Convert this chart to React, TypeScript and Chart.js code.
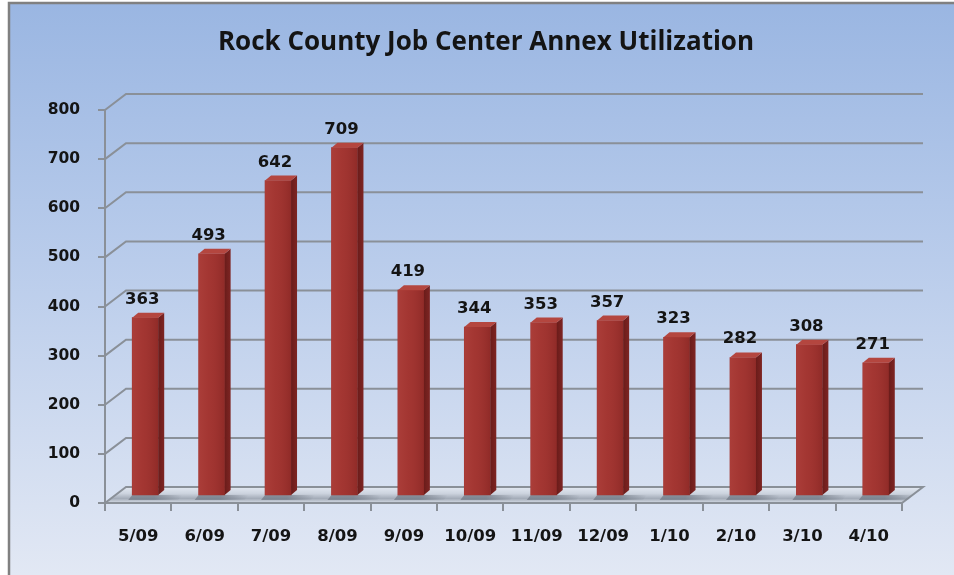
import { useEffect, useRef } from 'react';
import { Chart, registerables } from 'chart.js';

Chart.register(...registerables);

const categories = ['5/09', '6/09', '7/09', '8/09', '9/09', '10/09', '11/09', '12/09', '1/10', '2/10', '3/10', '4/10'];
const utilization = [363, 493, 642, 709, 419, 344, 353, 357, 323, 282, 308, 271];
const yTickValues = [0, 100, 200, 300, 400, 500, 600, 700, 800];
const chartTitle = 'Rock County Job Center Annex Utilization';

const TITLE_FONT = '"Open Sans", Lato, sans-serif';
const LABEL_FONT = '"DejaVu Sans", "Open Sans", sans-serif';
const WALL_DX = 21;
const WALL_DY = -16;
const BAR_DX = 7;
const BAR_DY = -7;
const SIDE_DX = 6;
const SIDE_DY = -5;
const LINE_COLOR = '#8a9098';

const threeD = {
  id: 'threeD',
  beforeDraw(chart: any) {
    const { ctx, width, height, chartArea } = chart;
    const ys = chart.scales.y;
    ctx.save();
    ctx.fillStyle = '#ffffff';
    ctx.fillRect(0, 0, width, height);
    const bg = ctx.createLinearGradient(0, 3, 0, height);
    bg.addColorStop(0, '#9ab6e2');
    bg.addColorStop(0.45, '#b9cceb');
    bg.addColorStop(1, '#e2e8f4');
    ctx.fillStyle = bg;
    ctx.fillRect(9, 3, width - 9, height - 3);
    ctx.strokeStyle = '#808080';
    ctx.lineWidth = 2.5;
    ctx.beginPath();
    ctx.moveTo(9, height + 5);
    ctx.lineTo(9, 3);
    ctx.lineTo(width + 5, 3);
    ctx.stroke();

    // title
    ctx.fillStyle = '#141414';
    ctx.font = `bold 26px ${TITLE_FONT}`;
    ctx.textAlign = 'center';
    ctx.textBaseline = 'alphabetic';
    ctx.fillText(chartTitle, 486, 50);

    const left = chartArea.left;
    const right = chartArea.right;
    const y0 = ys.getPixelForValue(0);

    // floor
    const fg = ctx.createLinearGradient(0, y0 + WALL_DY, 0, y0);
    fg.addColorStop(0, '#e2e8f1');
    fg.addColorStop(0.4, '#cdd4df');
    fg.addColorStop(0.72, '#a4acb8');
    fg.addColorStop(1, '#d6dce6');
    ctx.fillStyle = fg;
    ctx.beginPath();
    ctx.moveTo(left, y0);
    ctx.lineTo(right, y0);
    ctx.lineTo(right + WALL_DX, y0 + WALL_DY);
    ctx.lineTo(left + WALL_DX, y0 + WALL_DY);
    ctx.closePath();
    ctx.fill();

    // back wall grid lines + left-edge connectors
    ctx.strokeStyle = LINE_COLOR;
    ctx.lineWidth = 2;
    for (const v of yTickValues) {
      const y = ys.getPixelForValue(v);
      ctx.beginPath();
      ctx.moveTo(left, y);
      ctx.lineTo(left + WALL_DX, y + WALL_DY);
      ctx.lineTo(right + WALL_DX, y + WALL_DY);
      if (v === 0) ctx.lineTo(right, y);
      ctx.stroke();
    }
    ctx.restore();
  },
  beforeDatasetsDraw(chart: any) {
    const { ctx } = chart;
    const meta = chart.getDatasetMeta(0);
    ctx.save();
    // soft shadows on the floor
    for (const el of meta.data) {
      const { x, base, width } = el.getProps(['x', 'base', 'width'], true);
      const sx = x + BAR_DX + width / 2;
      const g = ctx.createLinearGradient(sx - 4, 0, sx + 24, 0);
      g.addColorStop(0, 'rgba(100,108,120,0.6)');
      g.addColorStop(1, 'rgba(100,108,120,0)');
      ctx.fillStyle = g;
      ctx.beginPath();
      ctx.moveTo(sx - width, base + BAR_DY);
      ctx.lineTo(sx + 24, base + BAR_DY);
      ctx.lineTo(sx + 20, base - 2);
      ctx.lineTo(sx - width - 4, base - 2);
      ctx.closePath();
      ctx.fill();
    }
    ctx.restore();
    ctx.save();
    ctx.translate(BAR_DX, BAR_DY);
  },
  afterDatasetsDraw(chart: any) {
    const { ctx } = chart;
    const meta = chart.getDatasetMeta(0);
    const ds = chart.data.datasets[0];
    meta.data.forEach((el: any, i: number) => {
      const { x, y, base, width } = el.getProps(['x', 'y', 'base', 'width'], true);
      const l = x - width / 2;
      const r = x + width / 2;
      // front shading
      const fg = ctx.createLinearGradient(l, 0, r, 0);
      fg.addColorStop(0, 'rgba(190,80,75,0.35)');
      fg.addColorStop(0.4, 'rgba(190,80,75,0.1)');
      fg.addColorStop(1, 'rgba(80,10,10,0.2)');
      ctx.fillStyle = fg;
      ctx.fillRect(l, y, width, base - y);
      // side face
      const sg = ctx.createLinearGradient(r, 0, r + SIDE_DX, 0);
      sg.addColorStop(0, '#6a1c1a');
      sg.addColorStop(1, '#7e2523');
      ctx.fillStyle = sg;
      ctx.beginPath();
      ctx.moveTo(r, y);
      ctx.lineTo(r + SIDE_DX, y + SIDE_DY);
      ctx.lineTo(r + SIDE_DX, base + SIDE_DY);
      ctx.lineTo(r, base);
      ctx.closePath();
      ctx.fill();
      // top face
      ctx.fillStyle = '#b4463f';
      ctx.beginPath();
      ctx.moveTo(l, y);
      ctx.lineTo(l + SIDE_DX, y + SIDE_DY);
      ctx.lineTo(r + SIDE_DX, y + SIDE_DY);
      ctx.lineTo(r, y);
      ctx.closePath();
      ctx.fill();
      // value label
      ctx.fillStyle = '#141414';
      ctx.font = `bold 16.5px ${LABEL_FONT}`;
      ctx.textAlign = 'center';
      ctx.textBaseline = 'alphabetic';
      ctx.fillText(String(ds.data[i]), x - 3, y - 14);
    });
    ctx.restore();
  },
};

export default function App() {
  const ref = useRef<HTMLCanvasElement | null>(null);
  useEffect(() => {
    if (!ref.current) return;
    const chart = new Chart(ref.current, {
      type: 'bar',
      data: {
        labels: categories,
        datasets: [
          {
            label: 'Utilization',
            data: utilization,
            backgroundColor: '#a0332f',
            borderWidth: 0,
            barThickness: 26,
            clip: false as any,
          },
        ],
      },
      options: {
        animation: false,
        responsive: false,
        devicePixelRatio: 1,
        layout: { padding: { top: 110, right: 52, left: 0, bottom: 0 } },
        plugins: {
          legend: { display: false },
          title: { display: false },
          tooltip: { enabled: false },
        },
        scales: {
          x: {
            grid: {
              display: true,
              drawOnChartArea: false,
              drawTicks: true,
              tickLength: 8,
              color: LINE_COLOR,
              lineWidth: 2,
              offset: true,
            },
            border: { display: true, color: LINE_COLOR, width: 2 },
            ticks: {
              color: '#141414',
              font: { family: LABEL_FONT, size: 16.5, weight: 'bold' },
              padding: 16,
              maxRotation: 0,
              autoSkip: false,
            },
            afterFit: (s: any) => {
              s.height = 72;
            },
          },
          y: {
            min: 0,
            max: 800,
            ticks: {
              stepSize: 100,
              color: '#141414',
              font: { family: LABEL_FONT, size: 15.5, weight: 'bold' },
              padding: 18,
            },
            grid: {
              display: true,
              drawOnChartArea: false,
              drawTicks: true,
              tickLength: 7,
              color: LINE_COLOR,
              lineWidth: 2,
            },
            border: { display: true, color: LINE_COLOR, width: 2 },
            afterFit: (s: any) => {
              s.width = 105;
            },
          },
        },
      },
      plugins: [threeD],
    });
    return () => chart.destroy();
  }, []);
  return (
    <div style={{ position: 'absolute', left: 0, top: 0, width: 954, height: 575 }}>
      <canvas ref={ref} width={954} height={575} style={{ display: 'block', width: 954, height: 575 }} />
    </div>
  );
}
